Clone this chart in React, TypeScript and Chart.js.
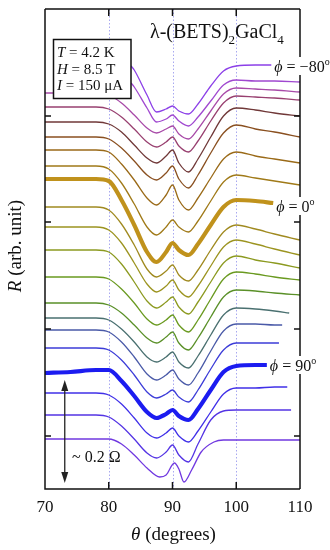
import React, { useEffect, useRef } from "react";
import { Chart, registerables } from "chart.js";
Chart.register(...registerables);

// ---------- axes ----------
const X_MIN = 70;
const X_MAX = 110;
const X_TICKS = [70, 80, 90, 100, 110];
const X_INNER_TICKS = [80, 90, 100];
const GUIDE_THETA = [80, 90, 100];
const Y_MIN = 0;
const Y_MAX = 480;
const Y_TICKS = [53, 160, 267, 373];

// ---------- series (theta in degrees, R in arb. units) ----------
const PHI = [-80, -70, -60, -50, -40, -30, -20, -10, 0, 10, 20, 30, 40, 50, 60, 70, 80, 90, 100, 110, 120];

const R_M80 = [[83.5,423],[84,419],[86,394],[87.5,377],[89,380],[90,383],[91,378],[92.5,375],[94,385],[96,403],[98,418],[100,423],[103,424],[105.5,424]];
const R_M70 = [[83.5,406],[84,402],[86,381],[87.5,367],[89,370],[90,374],[91,368],[92.5,363],[94,372],[96,388],[98,404],[100,409],[103,408],[106,408],[110,407]];
const R_M60 = [[70,396],[74,396],[78,396],[80,394],[82,386],[84,374],[86,361],[87.5,356],[89,360],[90,363],[91,355],[92.5,350],[94,360],[96,378],[98,395],[100,401],[103,400],[106,399],[110,397]];
const R_M50 = [[70,382],[74,382],[78,382],[80,380],[82,372],[84,360],[86,347],[87.5,342],[89,347],[90,352],[91,343],[92.5,337],[94,348],[96,368],[98,386],[100,393],[103,392],[106,391],[110,389]];
const R_M40 = [[70,367],[74,367],[78,367],[80,365],[82,357],[84,344],[86,331],[87.5,326],[89,333],[90,339],[91,326],[92.5,317],[94,330],[96,352],[98,373],[100,381],[103,379],[106,376],[110,373]];
const R_M30 = [[70,352],[74,352],[78,352],[80,350],[82,341],[84,328],[86,314],[87.5,309],[89,316],[90,323],[91,310],[92.5,301],[94,314],[96,336],[98,356],[100,364],[103,360],[106,357],[110,352]];
const R_M20 = [[70,339],[74,339],[78,339],[80,337],[82,325],[84,309],[86,291],[87.5,284],[89,294],[90,304],[91,289],[92.5,279],[94,291],[96,311],[98,330],[100,337],[103,333],[106,330],[110,326]];
const R_M10 = [[70,323],[74,323],[78,323],[80,320],[82,306],[84,285],[86,262],[87.5,254],[89,262],[90,269],[91,262],[92.5,257],[94,268],[96,288],[98,307],[100,314],[103,311],[106,308],[110,304]];
const R_P0 = [[70,310],[74,310],[78,310],[80,308],[82,289],[84,264],[86,237],[87.5,227],[89,237],[90,246],[91,239],[92.5,234],[94,245],[96,264],[98,282],[100,289],[103,288],[105.8,286]];
const R_P10 = [[70,282],[74,282],[78,282],[80,279],[82,265],[84,244],[86,220],[87.5,212],[89,218],[90,224],[91,214],[92.5,208],[94,219],[96,239],[98,257],[100,264],[103,260],[106,255],[110,249]];
const R_P20 = [[70,262],[74,262],[78,262],[80,259],[82,246],[84,226],[86,205],[87.5,197],[89,203],[90,209],[91,199],[92.5,192],[94,203],[96,223],[98,242],[100,249],[103,245],[106,240],[110,234]];
const R_P30 = [[70,239],[74,239],[78,239],[80,237],[82,225],[84,207],[86,188],[87.5,181],[89,187],[90,192],[91,182],[92.5,175],[94,187],[96,207],[98,226],[100,233],[103,229],[106,226],[110,221]];
const R_P40 = [[70,212],[74,212],[78,212],[80,210],[82,200],[84,186],[86,170],[87.5,164],[89,169],[90,174],[91,164],[92.5,157],[94,169],[96,190],[98,210],[100,217],[103,215],[106,212],[110,209]];
const R_P50 = [[70,186],[74,186],[78,186],[80,184],[82,176],[84,164],[86,151],[87.5,146],[89,152],[90,157],[91,146],[92.5,139],[94,151],[96,172],[98,192],[100,199],[103,198],[106,196],[110,194]];
const R_P60 = [[70,171],[74,171],[78,171],[80,169],[82,160],[84,147],[86,132],[87.5,127],[89,132],[90,137],[91,127],[92.5,121],[94,133],[96,154],[98,174],[100,181],[103,180],[106,178],[108.3,176]];
const R_P70 = [[70,159],[74,159],[78,159],[80,157],[82,147],[84,132],[86,115],[87.5,109],[89,114],[90,119],[91,110],[92.5,104],[94,116],[96,138],[98,158],[100,165],[103,165],[106,164],[107.2,164]];
const R_P80 = [[70,141],[74,141],[78,141],[80,139],[82,129],[84,114],[86,97],[87.5,91],[89,95],[90,99],[91,92],[92.5,87],[94,99],[96,120],[98,139],[100,146],[103,146],[106.7,146]];
const R_P90 = [[70,116],[74,117],[78,119],[80,119],[82,108],[84,93],[86,77],[87.5,71],[89,75],[90,79],[91,73],[92.5,69],[94,80],[96,99],[98,117],[100,123],[103,124],[104.8,124]];
const R_P100 = [[70,96],[74,96],[78,96],[80,94],[82,85],[84,71],[86,56],[87.5,51],[89,56],[90,61],[91,53],[92.5,47],[94,58],[96,77],[98,95],[100,101],[103,101],[106,102],[108,102]];
const R_P110 = [[70,74],[74,74],[78,74],[80,72],[82,63],[84,50],[86,36],[87.5,31],[89,37],[90,44],[91,34],[92.5,27],[94,45],[96,69],[98,78],[100,79],[103,79],[106,79],[108.6,79]];
const R_P120 = [[70,50],[74,50],[78,50],[80,50],[82,45],[84,34],[86,21],[88,12],[89,14],[90.3,26],[91,20],[91.8,7],[93,19],[94.5,37],[96.5,47],[98,49],[100,49],[103,49],[106,49],[110,49]];

const SERIES = [R_M80, R_M70, R_M60, R_M50, R_M40, R_M30, R_M20, R_M10, R_P0, R_P10, R_P20, R_P30, R_P40, R_P50, R_P60, R_P70, R_P80, R_P90, R_P100, R_P110, R_P120];

const COLORS = [
  "#8c40e8", "#a048d0", "#a84aa8", "#984070", "#703838", "#8a5020", "#9a6a18", "#a07a18",
  "#c0921c", "#a08a20", "#9c9420", "#8c9a20", "#6a9a20", "#5a9028", "#4a7070", "#4a5aa8",
  "#3c3cd8", "#1c1cf0", "#4030e8", "#5434e4", "#7038e0",
];
const THICK_PHI = [0, 90];
const LABELED_PHI = [-80, 0, 90];
const LABEL_DY = [2, 4, 1];

const SCALE_BAR_THETA = 73.1;
const SCALE_BAR_FROM = 6;
const SCALE_BAR_TO = 109;

const FAM = '"Liberation Serif", "Times New Roman", "DejaVu Serif", serif';

type Run = [string, string];

function fontFor(s: string, size: number) {
  if (s === "i") return `italic ${size}px ${FAM}`;
  if (s === "sub" || s === "sup") return `${Math.round(size * 0.65)}px ${FAM}`;
  return `${size}px ${FAM}`;
}

function measureRuns(ctx: CanvasRenderingContext2D, runs: Run[], size: number) {
  let total = 0;
  runs.forEach(([t, s]) => {
    ctx.font = fontFor(s, size);
    total += ctx.measureText(t).width;
  });
  return total;
}

function drawRuns(ctx: CanvasRenderingContext2D, runs: Run[], x: number, y: number, size: number, align = "left") {
  const total = measureRuns(ctx, runs, size);
  let cx = align === "left" ? x : align === "center" ? x - total / 2 : x - total;
  ctx.textAlign = "left";
  ctx.textBaseline = "alphabetic";
  runs.forEach(([t, s]) => {
    ctx.font = fontFor(s, size);
    const dy = s === "sub" ? size * 0.3 : s === "sup" ? -size * 0.42 : 0;
    ctx.fillText(t, cx, y + dy);
    cx += ctx.measureText(t).width;
  });
  return total;
}

const overlay = {
  id: "overlay",
  beforeDatasetsDraw(chart: any) {
    const { ctx, chartArea: a, scales } = chart;
    const x = scales.x;
    ctx.save();
    ctx.strokeStyle = "#a8a8f0";
    ctx.lineWidth = 1;
    ctx.setLineDash([1.5, 2]);
    for (const t of GUIDE_THETA) {
      const px = Math.round(x.getPixelForValue(t)) + 0.5;
      ctx.beginPath();
      ctx.moveTo(px, a.top);
      ctx.lineTo(px, a.bottom);
      ctx.stroke();
    }
    ctx.restore();
  },
  afterDatasetsDraw(chart: any) {
    const { ctx, chartArea: a, scales } = chart;
    const x = scales.x;
    const y = scales.y;
    ctx.save();
    ctx.fillStyle = "#111";
    ctx.strokeStyle = "#111";

    // phi labels (white background)
    LABELED_PHI.forEach((phi, k) => {
      const pts = SERIES[PHI.indexOf(phi)];
      const last = pts[pts.length - 1];
      const lx = x.getPixelForValue(last[0]) + 3;
      const ly = y.getPixelForValue(last[1]) + LABEL_DY[k];
      const txt = phi < 0 ? "\u2212" + Math.abs(phi) : String(phi);
      const runs: Run[] = [["\u03d5", "i"], [" = " + txt, "n"], ["o", "sup"]];
      const w = measureRuns(ctx, runs, 16);
      ctx.fillStyle = "#fff";
      ctx.fillRect(lx - 1, ly - 10, w + 3, 18);
      ctx.fillStyle = "#111";
      drawRuns(ctx, runs, lx, ly + 5, 16);
    });

    // frame
    ctx.lineWidth = 1.5;
    ctx.setLineDash([]);
    ctx.beginPath();
    ctx.moveTo(a.left, a.top);
    ctx.lineTo(a.right, a.top);
    ctx.moveTo(a.left, a.top);
    ctx.lineTo(a.left, a.bottom);
    ctx.lineTo(a.right, a.bottom);
    ctx.stroke();
    const gaps: [number, number][] = LABELED_PHI.map((phi, k) => {
      const pts = SERIES[PHI.indexOf(phi)];
      const last = pts[pts.length - 1];
      const ly = y.getPixelForValue(last[1]) + LABEL_DY[k];
      return [ly - 10, ly + 8];
    });
    let start = a.top;
    ctx.beginPath();
    for (const [g0, g1] of gaps.sort((p, q) => p[0] - q[0])) {
      ctx.moveTo(a.right, start);
      ctx.lineTo(a.right, g0);
      start = g1;
    }
    ctx.moveTo(a.right, start);
    ctx.lineTo(a.right, a.bottom);
    ctx.stroke();

    // inner ticks
    ctx.beginPath();
    for (const t of X_INNER_TICKS) {
      const px = x.getPixelForValue(t);
      ctx.moveTo(px, a.top);
      ctx.lineTo(px, a.top + 7);
      ctx.moveTo(px, a.bottom);
      ctx.lineTo(px, a.bottom - 7);
    }
    for (const t of Y_TICKS) {
      const py = y.getPixelForValue(t);
      ctx.moveTo(a.left, py);
      ctx.lineTo(a.left + 6, py);
      ctx.moveTo(a.right, py);
      ctx.lineTo(a.right - 6, py);
    }
    ctx.stroke();

    // x tick labels
    ctx.fillStyle = "#111";
    for (const tk of x.ticks) {
      if (!X_TICKS.includes(tk.value)) continue;
      const px = x.getPixelForValue(tk.value);
      drawRuns(ctx, [[String(tk.value), "n"]], px, a.bottom + 23, 17, "center");
    }
    // x title
    drawRuns(ctx, [["\u03b8", "i"], [" (degrees)", "n"]], (a.left + a.right) / 2 + 1, a.bottom + 51, 19, "center");
    // y title
    ctx.save();
    ctx.translate(21, 246);
    ctx.rotate(-Math.PI / 2);
    drawRuns(ctx, [["R", "i"], [" (arb. unit)", "n"]], 0, 0, 19, "center");
    ctx.restore();

    // chart title
    drawRuns(ctx, [["\u03bb-(BETS)", "n"], ["2", "sub"], ["GaCl", "n"], ["4", "sub"]], 150, 38, 20, "left");

    // parameter box
    ctx.fillStyle = "#fff";
    ctx.fillRect(53, 39, 78, 59);
    ctx.lineWidth = 1.5;
    ctx.strokeRect(53.5, 39.5, 77.5, 59);
    ctx.fillStyle = "#111";
    drawRuns(ctx, [["T", "i"], [" = 4.2 K", "n"]], 57, 57, 15);
    drawRuns(ctx, [["H", "i"], [" = 8.5 T", "n"]], 57, 73.5, 15);
    drawRuns(ctx, [["I", "i"], [" = 150 \u03bcA", "n"]], 57, 90, 15);

    // scale bar arrow
    const ax = x.getPixelForValue(SCALE_BAR_THETA);
    const yTop = y.getPixelForValue(SCALE_BAR_TO);
    const yBot = y.getPixelForValue(SCALE_BAR_FROM);
    ctx.lineWidth = 1.3;
    ctx.strokeStyle = "#222";
    ctx.fillStyle = "#222";
    ctx.beginPath();
    ctx.moveTo(ax, yTop + 8);
    ctx.lineTo(ax, yBot - 8);
    ctx.stroke();
    ctx.beginPath();
    ctx.moveTo(ax, yTop);
    ctx.lineTo(ax - 3.5, yTop + 11);
    ctx.lineTo(ax + 3.5, yTop + 11);
    ctx.closePath();
    ctx.fill();
    ctx.beginPath();
    ctx.moveTo(ax, yBot);
    ctx.lineTo(ax - 3.5, yBot - 11);
    ctx.lineTo(ax + 3.5, yBot - 11);
    ctx.closePath();
    ctx.fill();
    ctx.fillStyle = "#111";
    drawRuns(ctx, [["~ 0.2 \u03a9", "n"]], 72, 462, 16);

    ctx.restore();
  },
};

export default function App() {
  const ref = useRef<HTMLCanvasElement | null>(null);
  useEffect(() => {
    if (!ref.current) return;
    const datasets = SERIES.map((pts, i) => {
      const thick = THICK_PHI.includes(PHI[i]);
      return {
        label: "phi = " + PHI[i],
        data: pts.map(([t, r]) => ({ x: t, y: r })),
        borderColor: COLORS[i],
        borderWidth: thick ? 4.2 : 1.3,
        pointRadius: 0,
        fill: false,
        cubicInterpolationMode: "monotone" as const,
        order: thick ? 0 : 1,
      };
    });
    const chart = new Chart(ref.current, {
      type: "line",
      data: { datasets },
      options: {
        animation: false,
        responsive: false,
        devicePixelRatio: 1,
        layout: { padding: { left: 45, right: 30, top: 9, bottom: 61 } },
        plugins: { legend: { display: false }, tooltip: { enabled: false }, title: { display: false } },
        scales: {
          x: { type: "linear", min: X_MIN, max: X_MAX, display: false, ticks: { stepSize: 10 } },
          y: {
            type: "linear",
            min: Y_MIN,
            max: Y_MAX,
            display: false,
            afterBuildTicks: (s: any) => {
              s.ticks = Y_TICKS.map((v) => ({ value: v }));
            },
          },
        },
      },
      plugins: [overlay],
    });
    return () => chart.destroy();
  }, []);
  return (
    <div style={{ position: "fixed", left: 0, top: 0, width: 330, height: 550, background: "#fff" }}>
      <canvas ref={ref} width={330} height={550} style={{ width: 330, height: 550, display: "block" }} />
    </div>
  );
}
